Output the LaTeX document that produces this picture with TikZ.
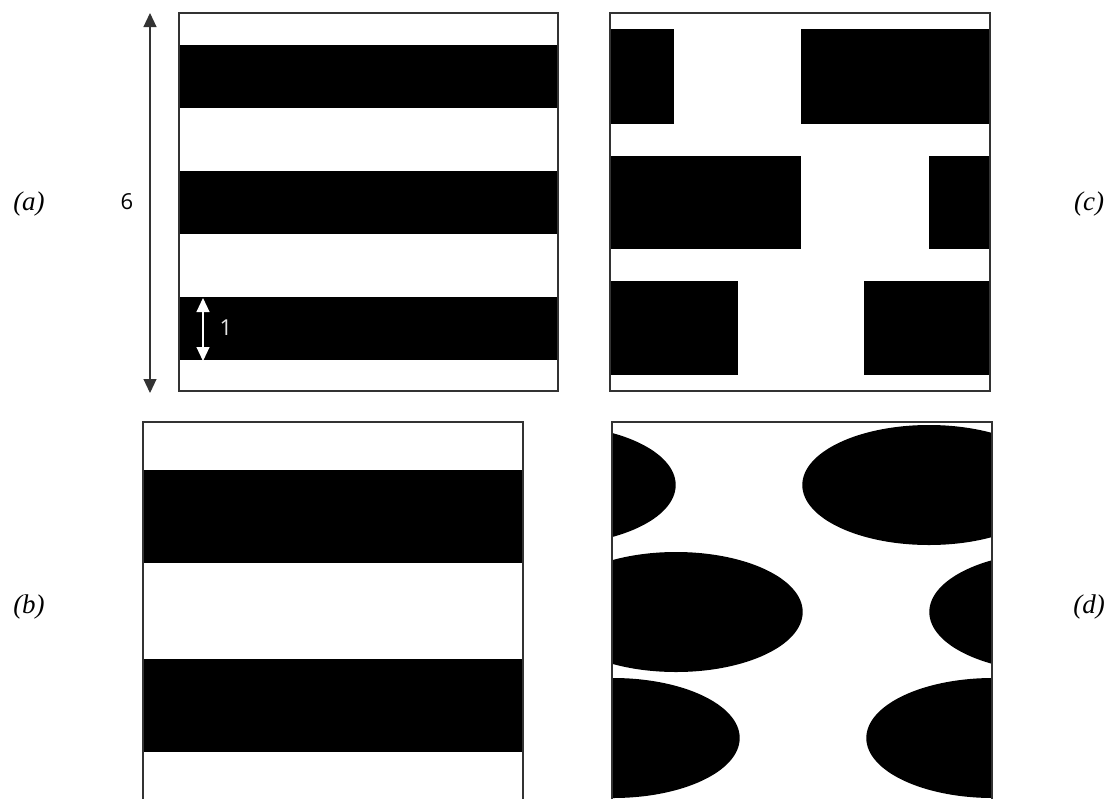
\documentclass[tikz,border=0pt]{standalone}
\usepackage{fontspec}
\setmainfont{Liberation Serif}
\newfontfamily\dimfont{Open Sans}
\usetikzlibrary{arrows.meta}
\begin{document}
\begin{tikzpicture}[x=1pt,y=-1pt,
  frame/.style={draw=black!80,line width=1.4pt},
  blk/.style={fill=black},
  lbl/.style={font=\fontsize{27}{30}\selectfont\itshape,inner sep=0pt},
  dimlbl/.style={font=\dimfont\fontsize{22}{26}\selectfont,inner sep=0pt},
  dimarrow/.style={line width=1.1pt,{Triangle[length=14pt,width=13pt]}-{Triangle[length=14pt,width=13pt]}}]
\useasboundingbox (0,0) rectangle (1111,798);
% ---------- panel (a)
\begin{scope}
\clip (179,13) rectangle (558,391);
\fill[blk] (179,44.5) rectangle (558,107.5);
\fill[blk] (179,170.5) rectangle (558,233.5);
\fill[blk] (179,297) rectangle (558,360);
\end{scope}
\draw[frame] (179,13) rectangle (558,391);
\coordinate (a6t) at (150,13);
\coordinate (a6b) at (150,393);
\draw[dimarrow,draw=black!80,fill=black] (a6t) -- (a6b);
\node[dimlbl] (six) at (127,202) {6};
\coordinate (a1t) at (203,298);
\coordinate (a1b) at (203,361);
\draw[dimarrow,draw=white,fill=white] (a1t) -- (a1b);
\node[dimlbl,text=white!90!black] (one) at (226,328) {1};
\node[lbl] (la) at (29,204) {(a)};
% ---------- panel (b)
\begin{scope}
\clip (143,422) rectangle (523,800);
\fill[blk] (143,470) rectangle (523,563);
\fill[blk] (143,659) rectangle (523,752);
\end{scope}
\draw[frame] (143,800) -- (143,422) -- (523,422) -- (523,800);
\node[lbl] (lb) at (29,607) {(b)};
% ---------- panel (c)
\begin{scope}
\clip (610,13) rectangle (990,391);
\fill[blk] (610,29) rectangle (674,124);
\fill[blk] (801,29) rectangle (990,124);
\fill[blk] (610,156) rectangle (801,249);
\fill[blk] (929,156) rectangle (990,249);
\fill[blk] (610,281) rectangle (738,375);
\fill[blk] (864,281) rectangle (990,375);
\end{scope}
\draw[frame] (610,13) rectangle (990,391);
\node[lbl] (lc) at (1089,204) {(c)};
% ---------- panel (d)
\begin{scope}
\clip (612,422) rectangle (992,800);
\fill[blk] (549,485) ellipse [x radius=126.7,y radius=60];
\fill[blk] (929,485) ellipse [x radius=126.7,y radius=60];
\fill[blk] (676,612) ellipse [x radius=126.7,y radius=60];
\fill[blk] (1056,612) ellipse [x radius=126.7,y radius=60];
\fill[blk] (613,738) ellipse [x radius=126.7,y radius=60];
\fill[blk] (993,738) ellipse [x radius=126.7,y radius=60];
\end{scope}
\draw[frame] (612,800) -- (612,422) -- (992,422) -- (992,800);
\node[lbl] (ld) at (1089,607) {(d)};
\end{tikzpicture}
\end{document}
